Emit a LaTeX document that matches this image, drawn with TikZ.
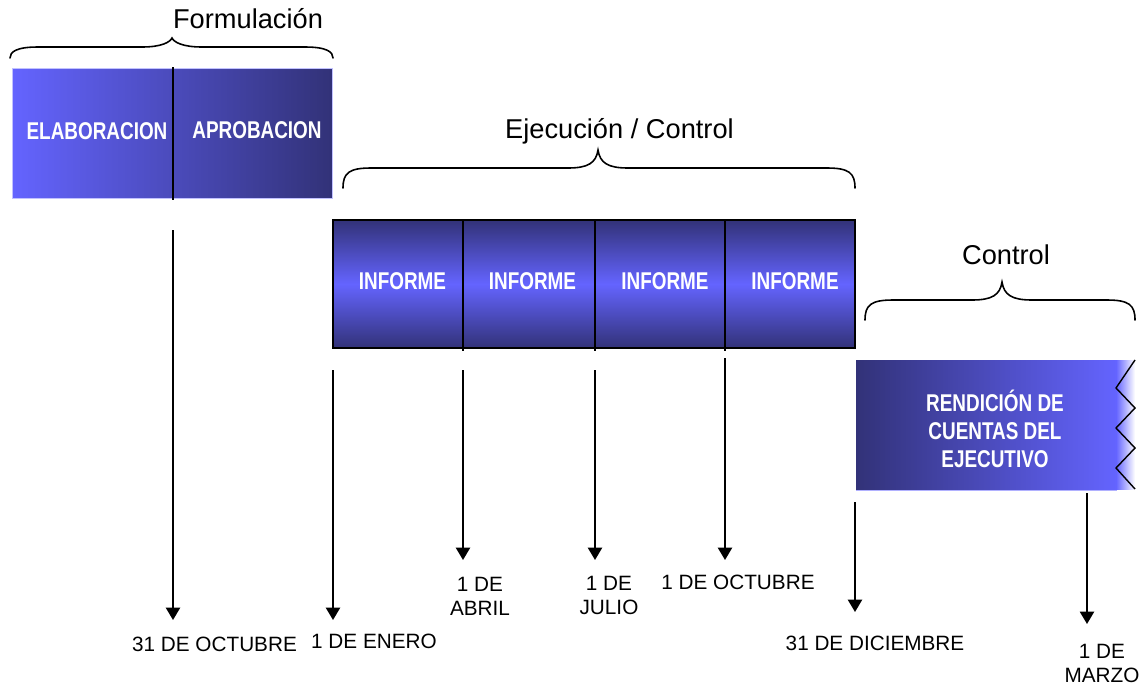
\documentclass[tikz,border=0pt]{standalone}
\usepackage{fontspec}
\setmainfont{Liberation Sans}
\newfontfamily\angosta[FakeStretch=0.78]{Liberation Sans}
\usetikzlibrary{calc,positioning,arrows.meta,backgrounds}
\definecolor{claro}{RGB}{100,100,255}
\definecolor{oscuro}{RGB}{50,50,120}
% llave: x izq, x der, x punta, y extremos, y linea, y punta
\newcommand{\llave}[6]{\draw[lla] (#1,#4) .. controls (#1,{#5+5}) and ({#1+6},#5) .. ({#1+28},#5) -- ({#3-30},#5) .. controls ({#3-10},#5) and ({#3-2},{#5-5}) .. (#3,#6) .. controls ({#3+2},{#5-5}) and ({#3+10},#5) .. ({#3+30},#5) -- ({#2-28},#5) .. controls ({#2-6},#5) and (#2,{#5+5}) .. (#2,#4);}

\begin{document}
\begin{tikzpicture}[x=0.02cm, y=-0.02cm]
\tikzstyle{titulo}=[inner sep=0pt, anchor=base, font=\fontsize{15.5}{18}\selectfont]
\tikzstyle{caja}=[inner sep=0pt, text=white, align=center,
                  font=\angosta\bfseries\fontsize{13.8}{15.9}\selectfont]
\tikzstyle{fecha}=[inner sep=0pt, align=center, font=\fontsize{11.8}{14}\selectfont]
\tikzstyle{flecha}=[line width=1.1pt, -{Triangle[length=7pt,width=8pt]}]
\tikzstyle{lla}=[line width=0.9pt, line cap=round]
\tikzstyle{div}=[line width=1.2pt]
\useasboundingbox (0,0) rectangle (1142,687);
% formulacion
\shade[left color=claro, right color=oscuro] (12,68) rectangle (332,198);
\draw[claro!40!white, line width=0.5pt] (12,68) rectangle (332,198);
\draw[div] (173,67) -- (173,200);
\node[caja] (elab) at (97,131.5) {ELABORACION};
\node[caja] (apro) at (257,130) {APROBACION};
\llave{10}{333}{172}{58}{47}{38}
\node[titulo] (form) at (248,28) {Formulación};
% ejecucion / control
\shade[top color=oscuro, bottom color=oscuro, middle color=claro] (333,220) rectangle (855,348);
\draw[div] (333,220) rectangle (855,348);
\foreach \x in {463,595,725}{\draw[div] (\x,220) -- (\x,351);}
\foreach \n/\x in {ia/402.5,ib/532.5,ic/665,id/795}{\node[caja] (\n) at (\x,281.5) {INFORME};}
\llave{343}{855}{598}{188}{168}{150}
\node[titulo] (ejec) at (619.5,138) {Ejecución / Control};
% control
\shade[left color=oscuro, right color=claro] (856,360) rectangle (1117,489);
\shade[left color=claro, right color=white] (1116,360) rectangle (1135,489);
\draw[line width=0.8pt] (1135,360) -- (1116,388) -- (1135,408) -- (1116,428) -- (1135,448) -- (1116,468) -- (1135,489);
\draw[claro!50!white, line width=0.5pt] (856,490.5) -- (1117,490.5);
\node[caja] (rend) at (995,429) {RENDICIÓN DE\\CUENTAS DEL\\EJECUTIVO};
\llave{865}{1135}{1002}{320}{300}{282}
\node[titulo] (cont) at (1006,264) {Control};
% fechas
\foreach \n/\x/\ya/\yb in {oct/173/230/620, ene/333/370/620, abr/463/370/560, jul/595/370/560, octu/725/358/560, dic/855/502/612, mar/1087/493/624}{
  \coordinate (s\n) at (\x,\ya); \coordinate (e\n) at (\x,\yb);
  \draw[flecha] (s\n) -- (e\n);}
\foreach \n/\x/\y/\t in {oct/214.5/644.5/{31 DE OCTUBRE}, ene/374/641.5/{1 DE ENERO}, abr/480/596.5/{1 DE\\ABRIL}, jul/609/595.5/{1 DE\\JULIO}, octu/738/582.5/{1 DE OCTUBRE}, dic/875/643.5/{31 DE DICIEMBRE}, mar/1102/663.5/{1 DE\\MARZO}}{\node[fecha] (l\n) at (\x,\y) {\t};}
\end{tikzpicture}
\end{document}
